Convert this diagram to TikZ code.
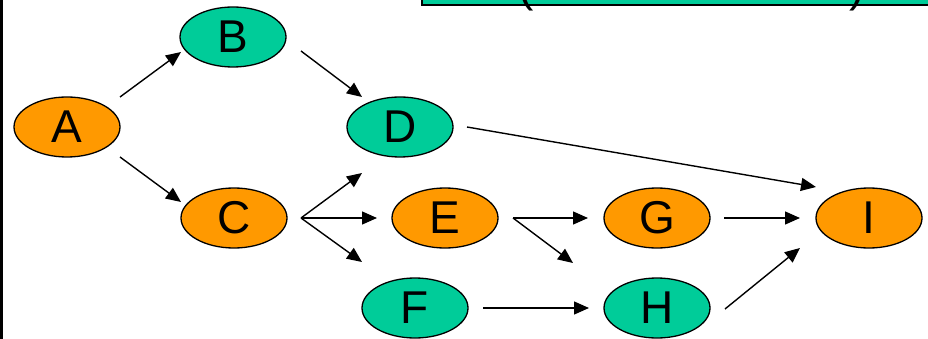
\documentclass[tikz,border=0pt]{standalone}
\usepackage{fontspec}
\setmainfont{Liberation Sans}
\usetikzlibrary{arrows.meta,calc,shapes.geometric}
\definecolor{nodeorange}{HTML}{FF9900}
\definecolor{nodegreen}{HTML}{00CC99}
\tikzset{
  ev/.style={ellipse, draw=black, line width=1.3pt, minimum width=106pt, minimum height=60pt, inner sep=0pt, font=\fontsize{46}{46}\selectfont},
  orn/.style={ev, fill=nodeorange},
  grn/.style={ev, fill=nodegreen},
  arr/.style={line width=1.4pt, -{Triangle[length=15pt,width=13pt]}},
  paren/.style={inner sep=0pt, anchor=base, font=\fontsize{46}{46}\selectfont}
}
\begin{document}
\begin{tikzpicture}[x=1pt,y=-1pt]
\useasboundingbox (0,0) rectangle (928,339);
\clip (0,0) rectangle (928,339);
\fill[white] (0,0) rectangle (928,339);
% partial box at top
\draw[fill=nodegreen, line width=2pt] (422,-30) rectangle (945,5);
\node[paren] (lp) at (526,2) {(};
\node[paren] (rp) at (857,2) {)};
% left border
\draw[line width=2.5pt] (1.5,-5) -- (1.5,345);
% nodes
\node[orn] (A) at (67,127) {A};
\node[grn] (B) at (233,37) {B};
\node[orn] (C) at (234,218) {C};
\node[grn] (D) at (400,127) {D};
\node[orn] (E) at (445,218) {E};
\node[grn] (F) at (415,308) {F};
\node[orn] (G) at (657,218) {G};
\node[grn] (H) at (657,308) {H};
\node[orn] (I) at (869,218) {I};
% connectors
\draw[arr] ($(A)+(53,-30)$) -- ($(B)+(-52,15)$);
\draw[arr] ($(A)+(53,30)$) -- ($(C)+(-53,-16)$);
\draw[arr] ($(B)+(68,14)$) -- ($(D)+(-38,-30)$);
\draw[arr] ($(C)+(67,0)$) -- ($(D)+(-38,46)$);
\draw[arr] ($(C)+(67,0)$) -- ($(E)+(-68,0)$);
\draw[arr] ($(C)+(67,0)$) -- ($(F)+(-53,-46)$);
\draw[arr] ($(D)+(67,0)$) -- ($(I)+(-53,-31)$);
\draw[arr] ($(E)+(68,0)$) -- ($(G)+(-69,0)$);
\draw[arr] ($(E)+(68,0)$) -- ($(H)+(-84,-45)$);
\draw[arr] ($(G)+(67,0)$) -- ($(I)+(-69,0)$);
\draw[arr] ($(F)+(68,0)$) -- ($(H)+(-68,0)$);
\draw[arr] ($(H)+(68,1)$) -- ($(I)+(-69,30)$);
\end{tikzpicture}
\end{document}
